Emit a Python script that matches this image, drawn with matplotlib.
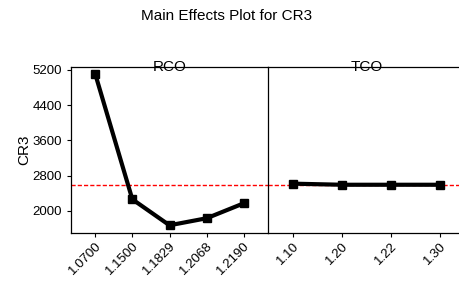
import matplotlib
matplotlib.use("Agg")
import matplotlib.pyplot as plt

# Main effects data for CR3
rco_levels = ["1.0700", "1.1500", "1.1829", "1.2068", "1.2190"]
rco_means = [5115, 2265, 1675, 1835, 2175]
tco_levels = ["1.10", "1.20", "1.22", "1.30"]
tco_means = [2620, 2595, 2595, 2595]
grand_mean = 2597
yticks = [2000, 2800, 3600, 4400, 5200]

plt.rcParams["font.family"] = ["Liberation Sans", "DejaVu Sans"]

W, H = 459, 281
fig = plt.figure(figsize=(W / 100, H / 100), dpi=100)

def px_axes(x0, y0, x1, y1):
    return fig.add_axes([x0 / W, 1 - y1 / H, (x1 - x0) / W, (y1 - y0) / H])

ax1 = px_axes(71, 67, 268, 233)
ax2 = px_axes(268, 67, 465, 233)

for ax, levels, means, pad in [(ax1, rco_levels, rco_means, 0.65),
                               (ax2, tco_levels, tco_means, 0.5)]:
    xs = range(len(levels))
    ax.plot(xs, means, color="black", lw=3, marker="s", ms=6, zorder=3)
    ax.axhline(grand_mean, color="#ff0000", lw=1.0, ls="--", dashes=(3, 1.5))
    ax.set_xlim(-pad, len(levels) - 1 + pad)
    ax.set_ylim(1500, 5268)
    ax.set_xticks(list(xs))
    ax.set_xticklabels(levels, rotation=45, ha="right", rotation_mode="anchor",
                       fontsize=9.5)
    ax.tick_params(axis="x", length=3, width=0.8, pad=2)
    for s in ax.spines.values():
        s.set_linewidth(0.9)

ax1.set_yticks(yticks)
ax1.set_yticklabels([str(v) for v in yticks], fontsize=9.5)
ax1.tick_params(axis="y", length=3, width=0.8)
ax1.set_ylabel("CR3", fontsize=11, labelpad=1)
ax1.spines["right"].set_visible(False)
ax2.tick_params(axis="y", left=False, labelleft=False)

ax1.text(0.5, 1.0, "RCO", transform=ax1.transAxes, ha="center", va="center",
         fontsize=11)
ax2.text(0.5, 1.0, "TCO", transform=ax2.transAxes, ha="center", va="center",
         fontsize=11)

fig.text(227 / W, 1 - 16 / H, "Main Effects Plot for CR3", ha="center",
         va="center", fontsize=11)

fig.savefig("out.png", dpi=100)
